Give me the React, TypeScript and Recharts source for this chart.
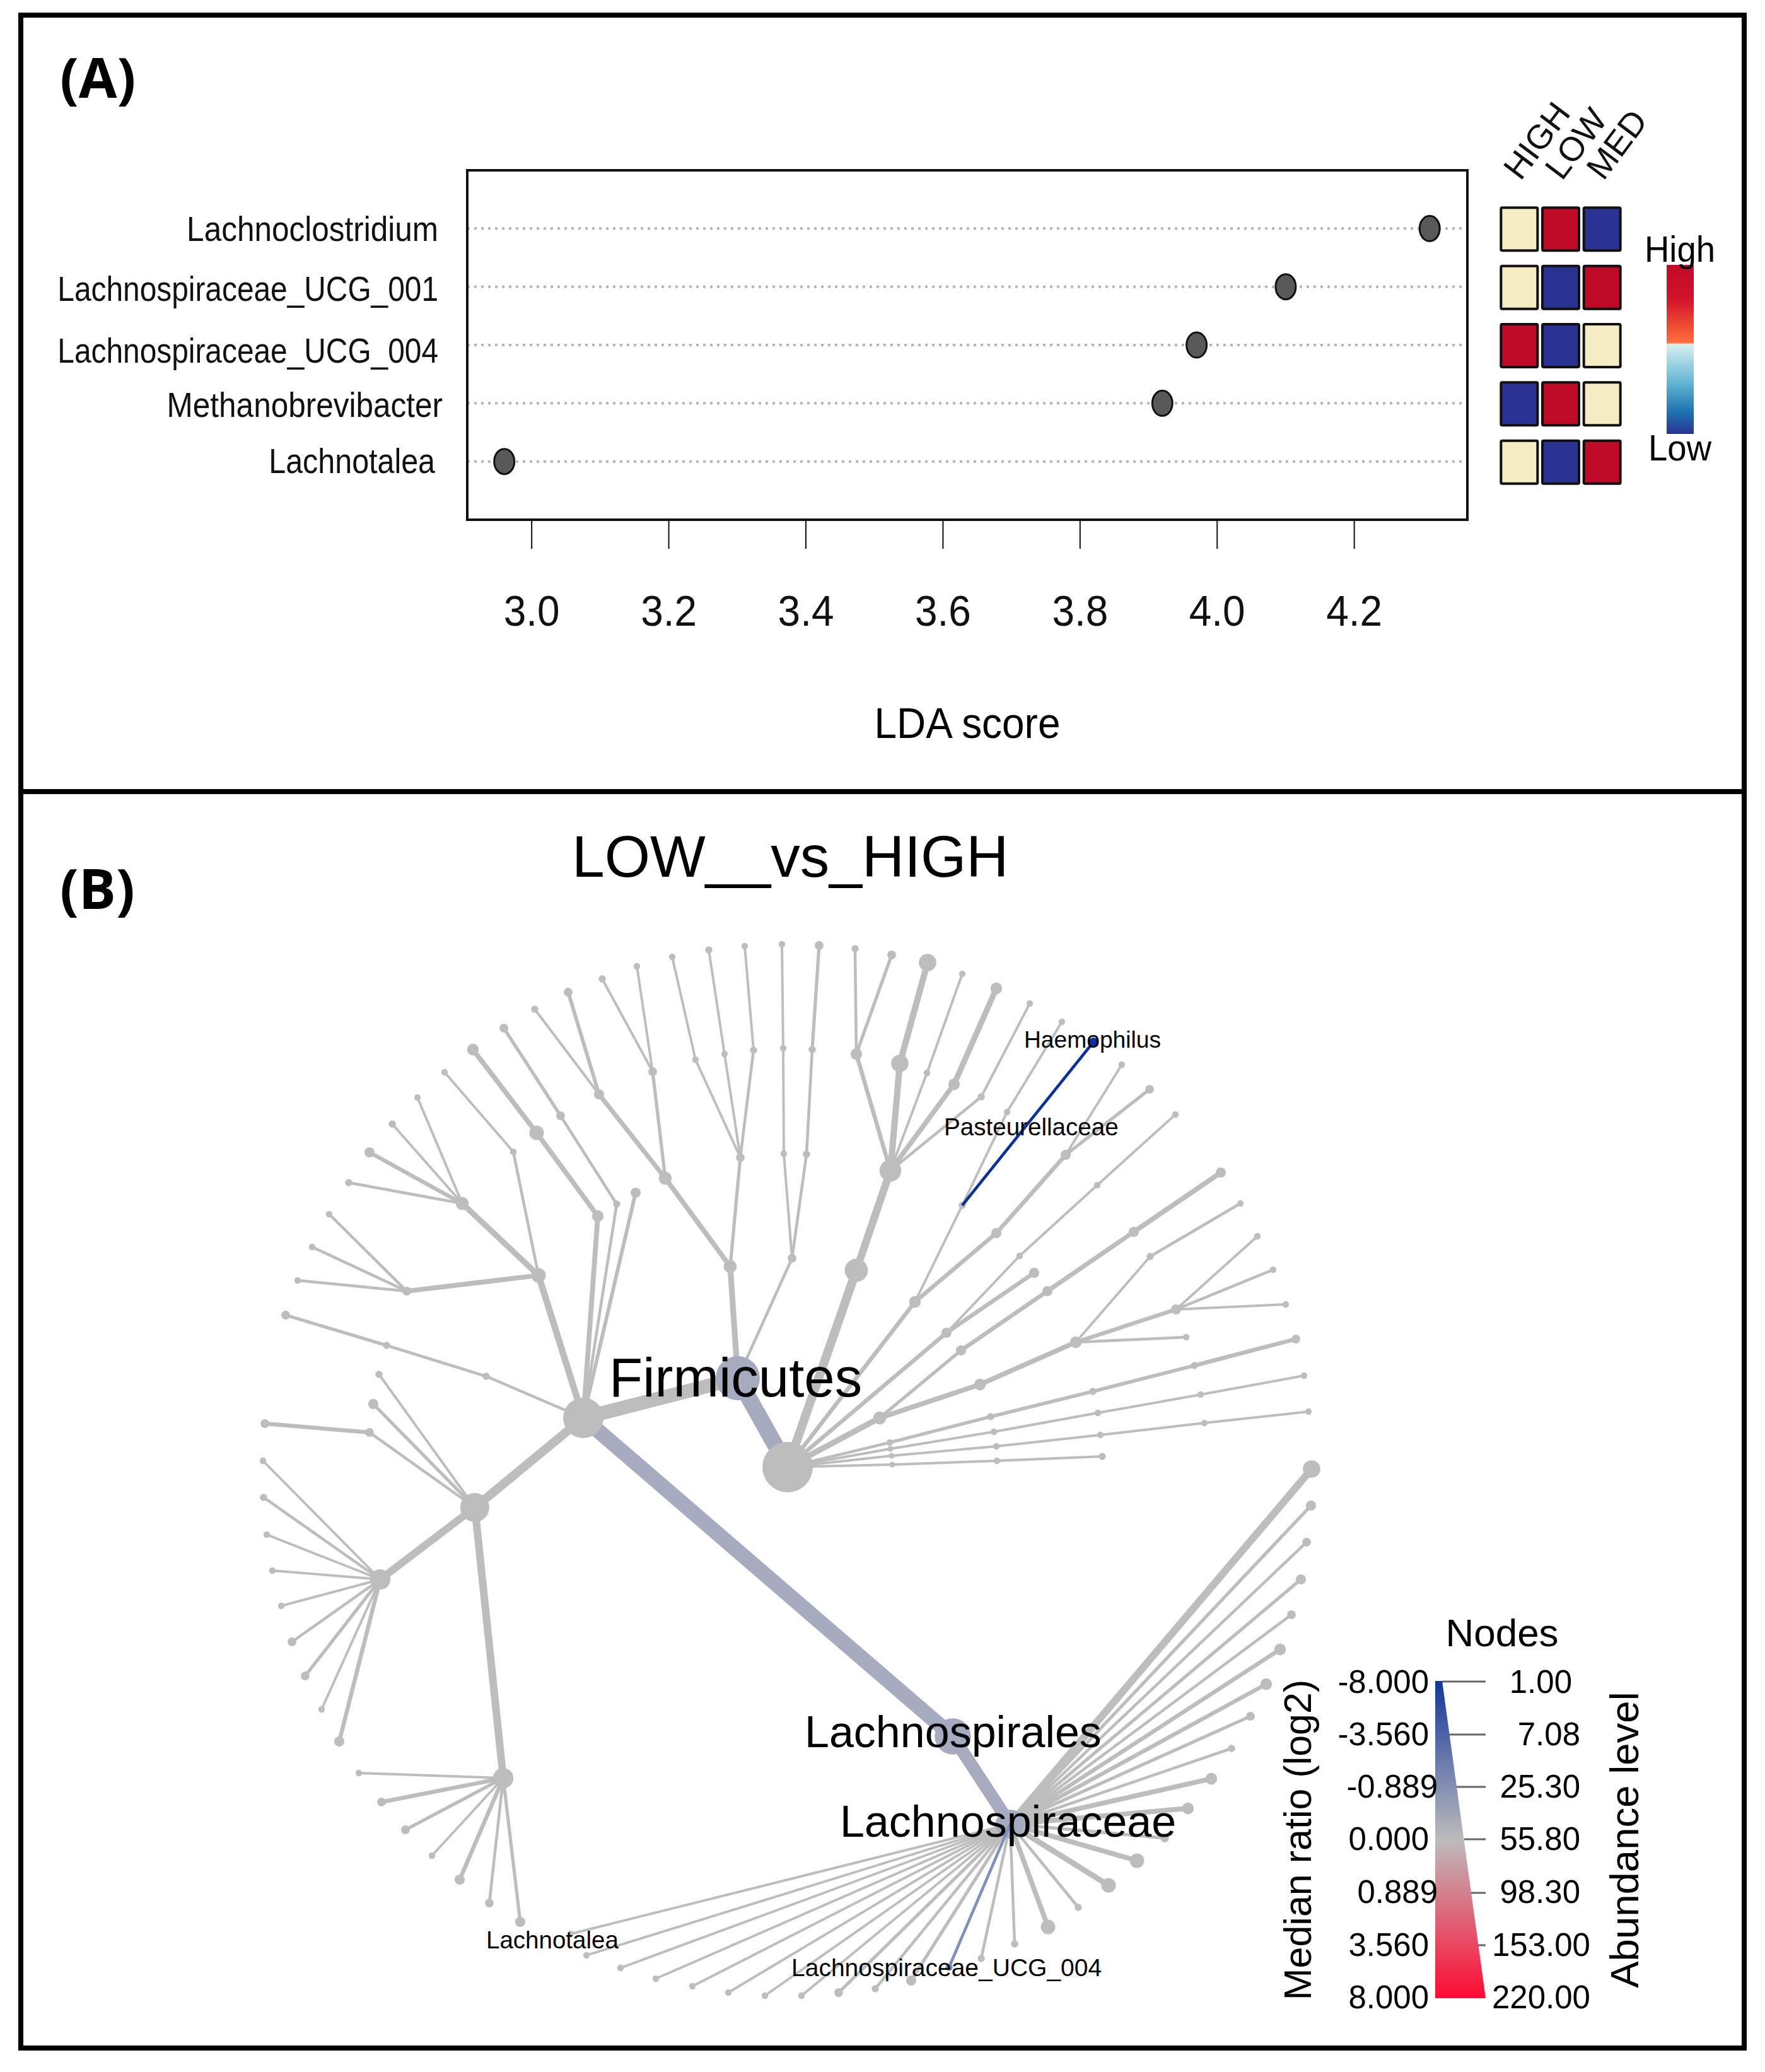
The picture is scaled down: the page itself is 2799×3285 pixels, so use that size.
import { ScatterChart, Scatter, XAxis, YAxis, CartesianGrid, ReferenceArea } from "recharts";

const FONT = "'Liberation Sans', Arial, sans-serif";
const GREY = "#bdbdbd";
const SLATE = "#a6abbf";
const DEEP_BLUE = "#0b2f9f";
const PALE_BLUE = "#7f90bd";
const THIN_EDGE_BOOST = 1.3;
const TIP_BOOST = 1.15;

// panel A
const GENERA = ["Lachnoclostridium", "Lachnospiraceae_UCG_001", "Lachnospiraceae_UCG_004", "Methanobrevibacter", "Lachnotalea"];
const LDA_SCORES = [4.31, 4.1, 3.97, 3.92, 2.96];
const RANKS = [5, 4, 3, 2, 1];
const LDA_TICKS = [3.0, 3.2, 3.4, 3.6, 3.8, 4.0, 4.2];
const NAME_RIGHT = [695, 695, 695, 702, 690];
const NAME_DY = [0, 2, 8, 2, -2];
const NAME_SQUEEZE = [0.9, 0.87, 0.87, 0.9, 0.88];
const GROUPS = ["HIGH", "LOW", "MED"];
// 1 = high, 0 = middle, -1 = low
const HEAT_ROWS = [
  [0, 1, -1],
  [0, -1, 1],
  [1, -1, 0],
  [-1, 1, 0],
  [0, -1, 1],
];
const HEAT_COLORS: Record<string, string> = { "1": "#c00b28", "0": "#f5ecc4", "-1": "#2a3292" };

// panel B: x1, y1, x2, y2, edge width, tip radius, read in picture pixels
const TREE_EDGES: number[][] = [
  // upper left clade
  [925, 2248, 854, 2022, 8, 10],
  [854, 2022, 733, 1908, 7, 9],
  [733, 1908, 586, 1827, 5, 7],
  [733, 1908, 553, 1875, 3.5, 5],
  [733, 1908, 622, 1782, 3, 5],
  [733, 1908, 662, 1740, 3, 4.5],
  [854, 2022, 814, 1826, 3.5, 4.5],
  [814, 1826, 705, 1700, 3, 4.5],
  [854, 2022, 645, 2047, 6, 6],
  [645, 2047, 472, 2030, 3.5, 4.5],
  [645, 2047, 495, 1977, 3.5, 4.5],
  [645, 2047, 522, 1925, 3.5, 4.5],
  [925, 2248, 771, 2182, 3.5, 5],
  [771, 2182, 613, 2133, 3.5, 5],
  [613, 2133, 453, 2085, 4, 6],
  [925, 2248, 948, 1928, 6, 8],
  [948, 1928, 851, 1796, 6, 10],
  [851, 1796, 750, 1664, 6, 8],
  [925, 2248, 978, 1909, 3.5, 5],
  [978, 1909, 889, 1769, 3.5, 6],
  [889, 1769, 799, 1630, 4, 6],
  [925, 2248, 1008, 1891, 4.5, 7],
  // top clade
  [1170, 2185, 1158, 2008, 7, 9],
  [1158, 2008, 1055, 1868, 6, 9],
  [1055, 1868, 950, 1735, 5.5, 7],
  [950, 1735, 901, 1573, 4.5, 6],
  [950, 1735, 848, 1600, 3, 5],
  [1055, 1868, 1035, 1699, 4, 6],
  [1035, 1699, 955, 1552, 3, 5],
  [1035, 1699, 1010, 1532, 3, 4.5],
  [1158, 2008, 1174, 1835, 4, 6],
  [1174, 1835, 1103, 1680, 3, 4.5],
  [1103, 1680, 1066, 1517, 3, 4.5],
  [1174, 1835, 1149, 1671, 3, 4.5],
  [1149, 1671, 1124, 1506, 3, 5],
  [1174, 1835, 1195, 1665, 3.5, 5],
  [1195, 1665, 1181, 1500, 3, 4.5],
  [1170, 2185, 1256, 1995, 3.5, 6],
  [1256, 1995, 1243, 1829, 3, 4.5],
  [1243, 1829, 1242, 1662, 3, 4.5],
  [1242, 1662, 1240, 1497, 3, 4.5],
  [1256, 1995, 1279, 1830, 3.5, 5],
  [1279, 1830, 1288, 1664, 3.5, 5],
  [1288, 1664, 1299, 1499, 4, 6],
  // big node, upward
  [1249, 2326, 1358, 2014, 14, 16],
  [1358, 2014, 1412, 1856, 12, 15],
  [1412, 1856, 1427, 1686, 10, 12],
  [1427, 1686, 1471, 1526, 10, 12],
  [1412, 1856, 1358, 1671, 5, 8],
  [1358, 1671, 1356, 1504, 3.5, 5],
  [1358, 1671, 1414, 1514, 4, 6],
  [1412, 1856, 1470, 1701, 3, 4.5],
  [1470, 1701, 1526, 1544, 3, 4.5],
  [1412, 1856, 1513, 1719, 6, 8],
  [1513, 1719, 1580, 1567, 7, 8],
  [1412, 1856, 1556, 1739, 3.5, 5],
  [1556, 1739, 1633, 1591, 3, 4.5],
  // big node, to the right
  [1249, 2326, 1451, 2064, 5, 8],
  [1451, 2064, 1526, 1911, 3, 5],
  [1526, 1911, 1597, 1763, 3, 4.5],
  [1597, 1763, 1684, 1620, 3, 4.5],
  [1451, 2064, 1580, 1955, 5, 7],
  [1580, 1955, 1690, 1831, 5, 7],
  [1690, 1831, 1779, 1688, 3, 4.5],
  [1690, 1831, 1823, 1727, 4, 6],
  [1249, 2326, 1501, 2113, 5, 7],
  [1501, 2113, 1640, 2018, 5, 7],
  [1501, 2113, 1617, 1991, 3, 4.5],
  [1617, 1991, 1740, 1879, 3, 4.5],
  [1740, 1879, 1864, 1767, 3, 4.5],
  [1249, 2326, 1395, 2248, 7, 9],
  [1395, 2248, 1524, 2141, 4, 7],
  [1524, 2141, 1661, 2047, 5, 7],
  [1661, 2047, 1798, 1953, 5.5, 7],
  [1798, 1953, 1936, 1859, 6, 7],
  [1395, 2248, 1554, 2195, 6, 8],
  [1554, 2195, 1706, 2128, 6, 8],
  [1706, 2128, 1865, 2076, 5, 7],
  [1865, 2076, 1994, 1960, 3, 4.5],
  [1865, 2076, 2019, 2013, 3.5, 4.5],
  [1865, 2076, 2039, 2068, 3, 4.5],
  [1706, 2128, 1881, 2120, 3.5, 4.5],
  [1706, 2128, 1824, 1992, 3, 5],
  [1824, 1992, 1967, 1908, 3.5, 4.5],
  [1249, 2326, 1411, 2287, 3.5, 4.5],
  [1411, 2287, 1571, 2246, 4, 5],
  [1571, 2246, 1733, 2206, 4.5, 5],
  [1733, 2206, 1894, 2165, 4.5, 5],
  [1894, 2165, 2055, 2123, 5, 6],
  [1249, 2326, 1412, 2297, 3, 4],
  [1412, 2297, 1576, 2270, 3, 4.5],
  [1576, 2270, 1741, 2240, 3, 4.5],
  [1741, 2240, 1904, 2211, 3, 4.5],
  [1904, 2211, 2068, 2181, 3, 4.5],
  [1249, 2326, 1414, 2308, 3, 4],
  [1414, 2308, 1580, 2293, 3, 4.5],
  [1580, 2293, 1745, 2275, 3, 4.5],
  [1745, 2275, 1910, 2256, 3, 4.5],
  [1910, 2256, 2075, 2238, 3, 4.5],
  [1249, 2326, 1415, 2322, 3, 4],
  [1415, 2322, 1581, 2316, 3, 4.5],
  [1581, 2316, 1748, 2309, 3, 5],
  // lower left clade
  [925, 2248, 753, 2390, 14, 20],
  [753, 2390, 603, 2504, 9, 14],
  [753, 2390, 798, 2819, 12, 14],
  [753, 2390, 586, 2271, 3.5, 6],
  [586, 2271, 420, 2257, 5, 6],
  [753, 2390, 592, 2226, 4, 7],
  [753, 2390, 601, 2179, 3, 5],
  [603, 2504, 417, 2316, 3, 4.5],
  [603, 2504, 418, 2374, 3.5, 5],
  [603, 2504, 423, 2433, 3, 4.5],
  [603, 2504, 432, 2490, 3, 4.5],
  [603, 2504, 446, 2546, 3, 4.5],
  [603, 2504, 463, 2603, 3.5, 6],
  [603, 2504, 484, 2657, 4, 6],
  [603, 2504, 510, 2710, 3, 4.5],
  [603, 2504, 538, 2761, 5, 7],
  [798, 2819, 569, 2811, 3, 4.5],
  [798, 2819, 605, 2857, 5, 6],
  [798, 2819, 643, 2901, 4, 6],
  [798, 2819, 685, 2942, 3, 4.5],
  [798, 2819, 729, 2980, 5, 7],
  [798, 2819, 776, 3017, 3.5, 6],
  [798, 2819, 825, 3047, 4, 7],
  // Lachnospiraceae fan
  [1602, 2892, 2080, 2329, 9, 12],
  [1602, 2892, 2079, 2387, 4, 7],
  [1602, 2892, 2072, 2445, 3.5, 6],
  [1602, 2892, 2063, 2504, 4, 7],
  [1602, 2892, 2048, 2560, 3.5, 6],
  [1602, 2892, 2030, 2615, 5, 8],
  [1602, 2892, 2008, 2670, 5, 8],
  [1602, 2892, 1983, 2721, 4, 6],
  [1602, 2892, 1953, 2772, 3.5, 5],
  [1602, 2892, 1921, 2820, 6, 8],
  [1602, 2892, 1884, 2867, 6, 8],
  [1602, 2892, 1847, 2914, 4, 6],
  [1602, 2892, 1803, 2950, 6, 10],
  [1602, 2892, 1758, 2989, 7, 10],
  [1602, 2892, 1710, 3024, 3.5, 5],
  [1602, 2892, 1662, 3055, 6, 10],
  [1602, 2892, 1609, 3082, 3.5, 5],
  [1602, 2892, 1556, 3105, 3.5, 5],
  [1602, 2892, 1445, 3140, 4, 7],
  [1602, 2892, 1388, 3153, 3.5, 5],
  [1602, 2892, 1330, 3159, 4, 6],
  [1602, 2892, 1271, 3164, 3, 4.5],
  [1602, 2892, 1213, 3164, 3, 4.5],
  [1602, 2892, 1155, 3159, 3, 4.5],
  [1602, 2892, 1098, 3149, 3, 4.5],
  [1602, 2892, 1040, 3137, 3, 4.5],
  [1602, 2892, 984, 3120, 3, 4.5],
  [1602, 2892, 930, 3100, 3, 4.5],
  [1602, 2892, 905, 3066, 3, 4.5],
];
const SLATE_EDGES: number[][] = [
  [925, 2248, 1511, 2753, 24, 25],
  [1511, 2753, 1602, 2892, 20, 20],
  [1170, 2185, 1249, 2326, 26, 0],
];
const THICK_GREY_EDGES: number[][] = [[925, 2248, 1170, 2185, 22, 0]];
const HAEMOPHILUS_EDGE = [1526, 1911, 1734, 1652, 3.5, 6];
const UCG_004_EDGE = [1602, 2892, 1505, 3119, 3.5, 5];
const GREY_HUBS = [
  { x: 925, y: 2248, r: 32 },
  { x: 1249, y: 2326, r: 40 },
];
const SLATE_HUBS = [{ x: 1170, y: 2185, r: 35 }];

// legend
const RATIO_LABELS = ["-8.000", "-3.560", "-0.889", "0.000", "0.889", "3.560", "8.000"];
const RATIO_RIGHT = [2266, 2266, 2280, 2266, 2280, 2266, 2266];
const ABUNDANCE_LABELS = ["1.00", "7.08", "25.30", "55.80", "98.30", "153.00", "220.00"];
const ABUNDANCE_RIGHT = [2493, 2506, 2506, 2506, 2506, 2522, 2522];
const LEGEND_BASELINES = [2684, 2767, 2850, 2933, 3017, 3101, 3184];
const LEGEND_TICK_Y = [2666, 2750, 2833, 2916, 3001, 3084];
const LEGEND_TICK_START = [2287, 2298, 2310, 2322, 2333, 2344];

const lollipopData = GENERA.map((name, i) => ({ name, score: LDA_SCORES[i], rank: RANKS[i] }));
const heatData = HEAT_ROWS.flatMap((row, i) => row.map((level, col) => ({ col, rank: RANKS[i], level })));

function GenusTick({ y, payload }: any) {
  const i = RANKS.indexOf(payload.value);
  return (
    <text
      transform={`translate(${NAME_RIGHT[i]},${y + 20 + NAME_DY[i]}) scale(${NAME_SQUEEZE[i]},1)`}
      textAnchor="end"
      fontSize={55}
      fontFamily={FONT}
      fill="#111"
    >
      {GENERA[i]}
    </text>
  );
}

function ScoreTick({ x, payload }: any) {
  return (
    <text transform={`translate(${x},992) scale(0.94,1)`} textAnchor="middle" fontSize={68} fontFamily={FONT} fill="#111">
      {payload.value.toFixed(1)}
    </text>
  );
}

function GroupTick({ x, payload }: any) {
  return (
    <text transform={`translate(${x + 2},288) rotate(-53)`} fontSize={54} fontFamily={FONT} fill="#111">
      {GROUPS[payload.value]}
    </text>
  );
}

function ScoreDot({ cx, cy }: any) {
  return <ellipse cx={cx} cy={cy} rx={16} ry={20} fill="#595959" stroke="#111" strokeWidth={3} />;
}

function HeatCell({ cx, cy, payload }: any) {
  return (
    <rect x={cx - 29} y={cy - 33} width={58} height={68} rx={2} fill={HEAT_COLORS[String(payload.level)]} stroke="#111" strokeWidth={4} />
  );
}

function TreeNode({ cx, cy, payload, fill }: any) {
  return <circle cx={cx} cy={cy} r={payload.r} fill={fill} />;
}

function edgeSeries(edge: number[], color: string, key: string) {
  const [x1, y1, x2, y2, width, tip] = edge;
  return (
    <Scatter
      key={key}
      data={[
        { x: x1, y: y1, r: 0 },
        { x: x2, y: y2, r: tip * TIP_BOOST },
      ]}
      fill={color}
      line={{ stroke: color, strokeWidth: width < 10 ? width * THIN_EDGE_BOOST : width }}
      shape={<TreeNode />}
      isAnimationActive={false}
    />
  );
}

function Txt({ x, y, size, children, anchor = "start", weight = "normal", family = FONT, sx = 1, rotate = 0 }: any) {
  return (
    <text
      transform={`translate(${x},${y}) rotate(${rotate}) scale(${sx},1)`}
      fontSize={size}
      fontFamily={family}
      fontWeight={weight}
      textAnchor={anchor}
      fill="#000"
    >
      {children}
    </text>
  );
}

export default function App() {
  return (
    <div style={{ position: "absolute", left: 0, top: 0, width: 2799, height: 3285, background: "#fff" }}>
      {/* tree */}
      <div style={{ position: "absolute", left: 0, top: 0 }}>
        <ScatterChart width={2799} height={3285} margin={{ top: 0, right: 0, bottom: 0, left: 0 }}>
          <XAxis type="number" dataKey="x" domain={[0, 2799]} hide />
          <YAxis type="number" dataKey="y" domain={[0, 3285]} reversed hide />
          {TREE_EDGES.map((e, i) => edgeSeries(e, GREY, `e${i}`))}
          {THICK_GREY_EDGES.map((e, i) => edgeSeries(e, GREY, `t${i}`))}
          {SLATE_EDGES.map((e, i) => edgeSeries(e, SLATE, `s${i}`))}
          {edgeSeries(UCG_004_EDGE, PALE_BLUE, "ucg")}
          {edgeSeries(HAEMOPHILUS_EDGE, DEEP_BLUE, "haem")}
          <Scatter data={SLATE_HUBS} fill={SLATE} shape={<TreeNode />} isAnimationActive={false} />
          <Scatter data={GREY_HUBS} fill={GREY} shape={<TreeNode />} isAnimationActive={false} />
        </ScatterChart>
      </div>

      {/* LDA dot plot */}
      <div style={{ position: "absolute", left: 0, top: 0 }}>
        <ScatterChart width={2799} height={1258} margin={{ top: 270, right: 472, bottom: 433, left: 740 }}>
          <CartesianGrid horizontal vertical={false} stroke="#b5b5b5" strokeWidth={4} strokeDasharray="4 7" />
          <XAxis
            type="number"
            dataKey="score"
            domain={[2.906, 4.365]}
            ticks={LDA_TICKS}
            height={1}
            axisLine={false}
            tickSize={46}
            tickLine={{ stroke: "#111", strokeWidth: 2 }}
            tick={<ScoreTick />}
            interval={0}
          />
          <YAxis
            type="number"
            dataKey="rank"
            domain={[0, 6]}
            ticks={RANKS}
            width={1}
            axisLine={false}
            tickLine={false}
            tick={<GenusTick />}
            interval={0}
          />
          <ReferenceArea x1={2.906} x2={4.365} y1={0} y2={6} fill="none" stroke="#111" strokeWidth={4} />
          <Scatter data={lollipopData} shape={<ScoreDot />} isAnimationActive={false} />
        </ScatterChart>
      </div>

      {/* group heat map */}
      <div style={{ position: "absolute", left: 2300, top: 0 }}>
        <ScatterChart width={400} height={1258} margin={{ top: 269, right: 126.5, bottom: 434, left: 76.5 }}>
          <XAxis
            type="number"
            dataKey="col"
            orientation="top"
            domain={[-0.5, 2.5]}
            ticks={[0, 1, 2]}
            height={1}
            axisLine={false}
            tickLine={false}
            tick={<GroupTick />}
            interval={0}
          />
          <YAxis type="number" dataKey="rank" domain={[0, 6]} hide />
          <Scatter data={heatData} shape={<HeatCell />} isAnimationActive={false} />
        </ScatterChart>
      </div>

      {/* frame, titles, legends */}
      <svg width={2799} height={3285} style={{ position: "absolute", left: 0, top: 0, pointerEvents: "none" }}>
        <defs>
          <linearGradient id="heatBar" x1="0" y1="0" x2="0" y2="1">
            <stop offset="0" stopColor="#c00b28" />
            <stop offset="0.2" stopColor="#d3122a" />
            <stop offset="0.46" stopColor="#ff6f3c" />
            <stop offset="0.47" stopColor="#d8f1f2" />
            <stop offset="0.7" stopColor="#62b4d2" />
            <stop offset="0.87" stopColor="#1c74b2" />
            <stop offset="1" stopColor="#2a3292" />
          </linearGradient>
          <linearGradient id="wedge" x1="0" y1="0" x2="0" y2="1">
            <stop offset="0" stopColor="#14369c" />
            <stop offset="0.5" stopColor="#bcbcbc" />
            <stop offset="1" stopColor="#ff0a32" />
          </linearGradient>
        </defs>

        <rect x={33} y={24} width={2733} height={3223} fill="none" stroke="#000" strokeWidth={8} />
        <line x1={33} y1={1255} x2={2766} y2={1255} stroke="#000" strokeWidth={8} />

        <Txt x={95} y={155} size={88} weight="bold" family="'Open Sans', sans-serif">(A)</Txt>
        <Txt x={95} y={1441} size={88} weight="bold" family="'Open Sans', sans-serif">(B)</Txt>

        <Txt x={1534} y={1170} size={68} anchor="middle" sx={0.94}>LDA score</Txt>
        <rect x={2643} y={420} width={43} height={268} fill="url(#heatBar)" />
        <Txt x={2664} y={415} size={58} anchor="middle" sx={0.94}>High</Txt>
        <Txt x={2664} y={730} size={58} anchor="middle" sx={0.94}>Low</Txt>

        <Txt x={907} y={1390} size={93}>LOW__vs_HIGH</Txt>
        <Txt x={966} y={2214} size={87}>Firmicutes</Txt>
        <Txt x={1276} y={2770} size={70}>Lachnospirales</Txt>
        <Txt x={1332} y={2912} size={70}>Lachnospiraceae</Txt>
        <Txt x={1255} y={3133} size={39}>Lachnospiraceae_UCG_004</Txt>
        <Txt x={771} y={3089} size={38.5}>Lachnotalea</Txt>
        <Txt x={1624} y={1661} size={37.2}>Haemophilus</Txt>
        <Txt x={1497} y={1800} size={38.6}>Pasteurellaceae</Txt>

        <polygon points="2276,2665 2287,2665 2356,3168 2276,3168" fill="url(#wedge)" />
        {LEGEND_TICK_Y.map((y, i) => (
          <line key={y} x1={LEGEND_TICK_START[i]} y1={y} x2={2356} y2={y} stroke="#666" strokeWidth={3} />
        ))}
        <Txt x={2382} y={2610} size={62} anchor="middle">Nodes</Txt>
        {RATIO_LABELS.map((label, i) => (
          <Txt key={label} x={RATIO_RIGHT[i]} y={LEGEND_BASELINES[i]} size={51} anchor="end">{label}</Txt>
        ))}
        {ABUNDANCE_LABELS.map((label, i) => (
          <Txt key={label} x={ABUNDANCE_RIGHT[i]} y={LEGEND_BASELINES[i]} size={51} anchor="end">{label}</Txt>
        ))}
        <Txt x={2079} y={2917} size={61} anchor="middle" rotate={-90}>Median ratio (log2)</Txt>
        <Txt x={2598} y={2917} size={63.5} anchor="middle" rotate={-90}>Abundance level</Txt>
      </svg>
    </div>
  );
}
